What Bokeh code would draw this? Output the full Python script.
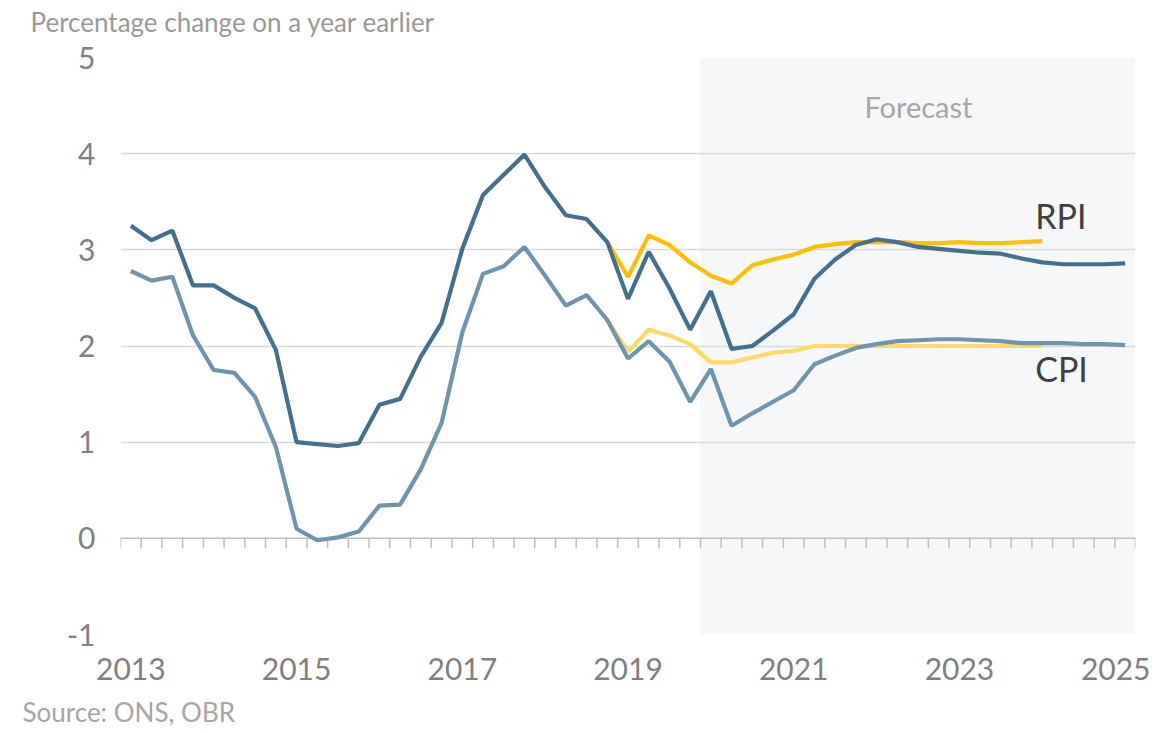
import numpy as np
from bokeh.plotting import figure
from bokeh.models import FixedTicker, BoxAnnotation, Label, Title, Range1d
from bokeh.embed import file_html
from bokeh.resources import INLINE

# ---- data (quarterly, 2013Q1 .. 2025Q1) ----
start_year = 2013
rpi = [3.25, 3.10, 3.20, 2.63, 2.63, 2.50, 2.39, 1.96,
       1.00, 0.98, 0.96, 0.99, 1.39, 1.45, 1.89, 2.24,
       3.01, 3.57, 3.78, 3.99, 3.65, 3.36, 3.32, 3.08,
       2.49, 2.98, 2.60, 2.17, 2.57, 1.97, 2.00, 2.16,
       2.33, 2.70, 2.90, 3.05, 3.11, 3.08, 3.03, 3.01,
       2.99, 2.97, 2.96, 2.91, 2.87, 2.85, 2.85, 2.85, 2.86]
cpi = [2.78, 2.68, 2.72, 2.11, 1.75, 1.72, 1.47, 0.95,
       0.10, -0.02, 0.01, 0.07, 0.34, 0.35, 0.72, 1.20,
       2.14, 2.75, 2.83, 3.03, 2.73, 2.42, 2.53, 2.27,
       1.87, 2.05, 1.84, 1.42, 1.76, 1.17, 1.30, 1.42,
       1.54, 1.81, 1.90, 1.98, 2.02, 2.05, 2.06, 2.07,
       2.07, 2.06, 2.05, 2.03, 2.03, 2.03, 2.02, 2.02, 2.01]
# previous forecast, 2018Q4 .. 2024Q1
prev_start_index = 23
rpi_prev = [3.08, 2.72, 3.15, 3.05, 2.87, 2.73, 2.65, 2.84, 2.90,
            2.95, 3.03, 3.06, 3.08, 3.08, 3.08, 3.07, 3.07,
            3.08, 3.07, 3.07, 3.08, 3.09]
cpi_prev = [2.27, 1.94, 2.17, 2.11, 2.02, 1.83, 1.83, 1.88, 1.93,
            1.95, 2.00, 2.00, 2.00, 2.00, 2.00, 2.00, 2.00,
            2.00, 2.00, 2.00, 2.00, 2.00]
forecast_start = 2020.0
year_labels = [2013, 2015, 2017, 2019, 2021, 2023, 2025]
y_ticks = [-1, 0, 1, 2, 3, 4, 5]

n = len(rpi)
x = start_year + (np.arange(n) + 0.5) / 4
x_prev = start_year + (np.arange(prev_start_index, prev_start_index + len(rpi_prev)) + 0.5) / 4
x_end = start_year + n / 4

FONT = "Lato"
W, H = 1150, 732
p = figure(width=W, height=H, x_range=Range1d(start_year, x_end), y_range=Range1d(-1, 5),
           output_backend="svg", toolbar_location=None,
           min_border_left=120, min_border_right=W - 1135, min_border_top=57,
           min_border_bottom=H - 634)
p.outline_line_color = None
p.background_fill_color = "white"
p.border_fill_color = "white"

# forecast shading
box = BoxAnnotation(left=forecast_start, right=x_end, bottom=-1, top=5,
                    fill_color="#f6f7f9", fill_alpha=1.0, line_color=None, level="image")
p.add_layout(box)

# grids / axes
p.xgrid.visible = False
p.ygrid.ticker = FixedTicker(ticks=[t for t in y_ticks if t != 0])
p.ygrid.grid_line_color = "#d9d9d9"
p.ygrid.grid_line_width = 1.3
p.ygrid.level = "underlay"

p.yaxis.ticker = FixedTicker(ticks=y_ticks)
p.yaxis.major_label_overrides = {t: str(t) for t in y_ticks}
p.yaxis.axis_line_color = None
p.yaxis.major_tick_line_color = None
p.yaxis.minor_tick_line_color = None
p.yaxis.major_label_standoff = 19
p.yaxis.major_label_text_font = FONT
p.yaxis.major_label_text_font_size = "30px"
p.yaxis.major_label_text_color = "#808080"

p.xaxis.ticker = FixedTicker(ticks=[yv + 0.125 for yv in year_labels])
p.xaxis.major_label_overrides = {yv + 0.125: str(yv) for yv in year_labels}
p.xaxis.axis_line_color = None
p.xaxis.major_tick_line_color = None
p.xaxis.minor_tick_line_color = None
p.xaxis.major_label_standoff = 17
p.xaxis.major_label_text_font = FONT
p.xaxis.major_label_text_font_size = "30px"
p.xaxis.major_label_text_color = "#808080"

# zero line with quarterly ticks
qb = start_year + np.arange(n + 1) / 4
tick_len = 10 * 6 / 577
p.segment(x0=[start_year], x1=[x_end], y0=[0], y1=[0], line_color="#bfbfbf", line_width=1.5)
p.segment(x0=qb, x1=qb, y0=np.zeros(len(qb)), y1=np.full(len(qb), -tick_len),
          line_color="#bfbfbf", line_width=1.5)

# lines
p.line(x_prev, rpi_prev, line_color="#ffc000", line_width=4.2)
p.line(x_prev, cpi_prev, line_color="#ffd966", line_width=4.2)
p.line(x, cpi, line_color="#7094ab", line_width=4.2)
p.line(x, rpi, line_color="#45708d", line_width=4.2)

# annotations
p.add_layout(Label(x=2022.63, y=4.49, text="Forecast", text_font=FONT, text_font_size="29px",
                   text_color="#a6a6a6", text_align="center", text_baseline="middle"))
p.add_layout(Label(x=2024.04, y=3.36, text="RPI", text_font=FONT, text_font_size="34px",
                   text_color="#404040", text_align="left", text_baseline="middle"))
p.add_layout(Label(x=2024.04, y=1.77, text="CPI", text_font=FONT, text_font_size="34px",
                   text_color="#404040", text_align="left", text_baseline="middle"))

# heading (with a thin spacer panel between it and the plot frame)
p.add_layout(Title(text=" ", text_font_size="2px", standoff=16), "above")
p.add_layout(Title(text="Percentage change on a year earlier", text_font=FONT,
                   text_font_size="26px", text_color="#999999", text_font_style="normal",
                   align="left", offset=-90, standoff=0), "above")
# source note (spacer below the axis labels)
p.add_layout(Title(text=" ", text_font_size="2px", standoff=7), "below")
p.add_layout(Title(text="Source: ONS, OBR", text_font=FONT,
                   text_font_size="26px", text_color="#a6a6a6", text_font_style="normal",
                   align="left", offset=-98, standoff=0), "below")

open("out.html", "w").write(file_html(p, INLINE))
